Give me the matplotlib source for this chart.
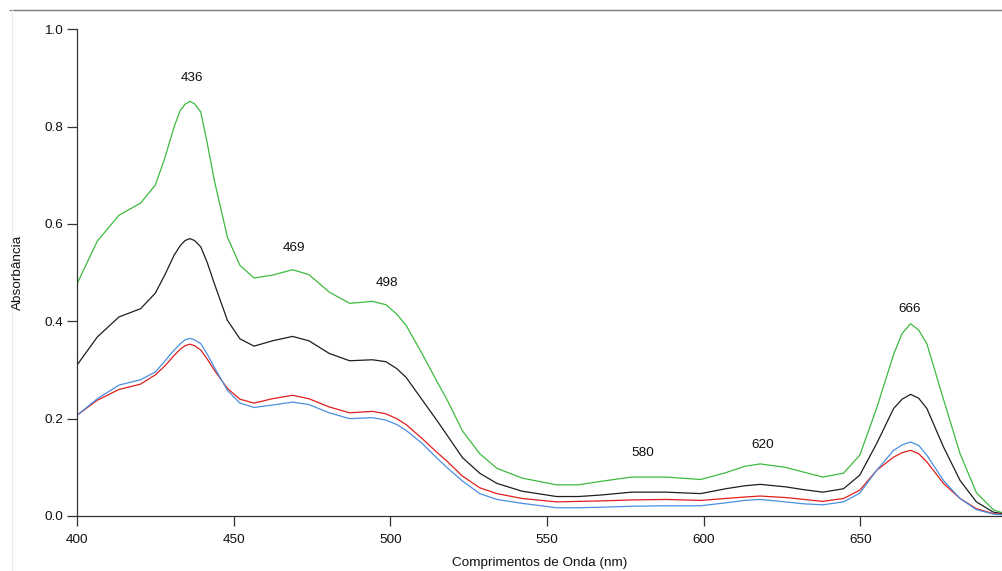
import matplotlib
matplotlib.use("Agg")
import matplotlib.pyplot as plt
from matplotlib.lines import Line2D

plt.rcParams['font.family'] = ['Liberation Sans', 'DejaVu Sans']

wavelength = [400, 406.5, 413.4, 420.3, 425, 428, 431, 433, 434.5, 436, 437.5, 439.5,
              441.6, 443.8, 448, 452, 456.5, 462.4, 468.8, 474, 480.5, 487,
              494.3, 498.6, 502, 505, 510, 515, 518, 523, 528.5, 534,
              542, 553, 560, 567, 577, 588, 599, 607, 613, 618,
              626, 632, 638, 644.6, 649.8, 655.2, 660.6, 663.3, 666, 668.6, 671.2, 676.5,
              681.8, 687, 692.4, 696]

green = [0.477, 0.565, 0.618, 0.643, 0.680, 0.735, 0.800, 0.834, 0.846, 0.852, 0.847, 0.830,
         0.765, 0.690, 0.573, 0.515, 0.489, 0.495, 0.506, 0.496, 0.460, 0.437,
         0.441, 0.434, 0.415, 0.392, 0.335, 0.275, 0.240, 0.175, 0.128, 0.098,
         0.078, 0.064, 0.064, 0.071, 0.080, 0.080, 0.075, 0.089, 0.102, 0.107,
         0.100, 0.090, 0.080, 0.088, 0.125, 0.222, 0.332, 0.375, 0.395, 0.382, 0.354, 0.240,
         0.128, 0.048, 0.013, 0.005]

black = [0.310, 0.368, 0.409, 0.426, 0.458, 0.495, 0.536, 0.556, 0.566, 0.570, 0.566, 0.553,
         0.520, 0.478, 0.402, 0.364, 0.349, 0.360, 0.369, 0.360, 0.334, 0.319,
         0.321, 0.317, 0.303, 0.285, 0.240, 0.195, 0.167, 0.120, 0.088, 0.067,
         0.051, 0.040, 0.040, 0.043, 0.049, 0.049, 0.046, 0.056, 0.062, 0.065,
         0.060, 0.054, 0.049, 0.056, 0.084, 0.149, 0.221, 0.240, 0.250, 0.242, 0.221, 0.142,
         0.073, 0.029, 0.008, 0.004]

red = [0.207, 0.238, 0.260, 0.271, 0.290, 0.308, 0.330, 0.343, 0.350, 0.353, 0.350, 0.341,
       0.322, 0.300, 0.262, 0.240, 0.232, 0.241, 0.248, 0.241, 0.224, 0.212,
       0.215, 0.210, 0.200, 0.188, 0.160, 0.130, 0.113, 0.082, 0.058, 0.046,
       0.036, 0.029, 0.030, 0.031, 0.033, 0.034, 0.032, 0.036, 0.039, 0.041,
       0.038, 0.034, 0.030, 0.036, 0.053, 0.094, 0.121, 0.130, 0.135, 0.128, 0.111, 0.067,
       0.036, 0.015, 0.005, 0.003]

blue = [0.207, 0.241, 0.269, 0.280, 0.296, 0.318, 0.341, 0.354, 0.362, 0.365, 0.362, 0.354,
        0.332, 0.306, 0.258, 0.232, 0.223, 0.228, 0.234, 0.229, 0.212, 0.200,
        0.202, 0.197, 0.188, 0.176, 0.150, 0.118, 0.100, 0.072, 0.046, 0.034,
        0.026, 0.017, 0.017, 0.018, 0.020, 0.021, 0.021, 0.027, 0.032, 0.034,
        0.029, 0.025, 0.023, 0.029, 0.047, 0.094, 0.135, 0.146, 0.152, 0.145, 0.125, 0.073,
        0.036, 0.013, 0.004, 0.002]

peak_labels = ['436', '469', '498', '580', '620', '666']
peak_label_x = [436.7, 469.4, 499.0, 580.6, 618.8, 665.8]
peak_label_y = [0.900, 0.550, 0.478, 0.130, 0.145, 0.426]

x_ticks = [400, 450, 500, 550, 600, 650]
y_ticks = [0.0, 0.2, 0.4, 0.6, 0.8, 1.0]

fig = plt.figure(figsize=(10.03, 5.71), dpi=100)
ax = fig.add_axes([77 / 1003, 1 - 516 / 571, 1 - 77 / 1003, (516 - 29.3) / 571])

ax.plot(wavelength, green, color='#3dba3d', lw=0.9)
ax.plot(wavelength, black, color='#1e1e1e', lw=0.9)
ax.plot(wavelength, red, color='#e01e1e', lw=0.9)
ax.plot(wavelength, blue, color='#4a8fe0', lw=0.9)

for t, xx, yy in zip(peak_labels, peak_label_x, peak_label_y):
    ax.text(xx, yy, t, ha='center', va='center', fontsize=9.7, color='#111111')

ax.set_xlim(400, 695.5)
ax.set_ylim(0, 1.0)
ax.set_xticks(x_ticks)
ax.set_yticks(y_ticks)
ax.set_yticklabels([f'{v:.1f}' for v in y_ticks])
for s in ['top', 'right']:
    ax.spines[s].set_visible(False)
for s in ['left', 'bottom']:
    ax.spines[s].set_color('#333333')
    ax.spines[s].set_linewidth(0.9)
ax.tick_params(axis='both', direction='out', length=7, width=0.9, color='#333333',
               labelsize=9.7, labelcolor='#111111')
ax.tick_params(axis='x', pad=6)
ax.tick_params(axis='y', pad=3)

fig.text(540 / 1003, 1 - 563 / 571, 'Comprimentos de Onda (nm)', ha='center', va='center',
         fontsize=9.7, color='#111111')
fig.text(18 / 1003, 1 - 272 / 571, 'Absorbância', ha='center', va='center',
         rotation=90, fontsize=9.7, color='#111111')

# frame lines
fig.add_artist(Line2D([10 / 1003, 1], [1 - 10 / 571, 1 - 10 / 571], transform=fig.transFigure,
                      color='#7a7a7a', lw=1.0))
fig.add_artist(Line2D([12 / 1003, 12 / 1003], [0, 1 - 10 / 571], transform=fig.transFigure,
                      color='#ececec', lw=0.8))

fig.savefig('out.png', dpi=100)
